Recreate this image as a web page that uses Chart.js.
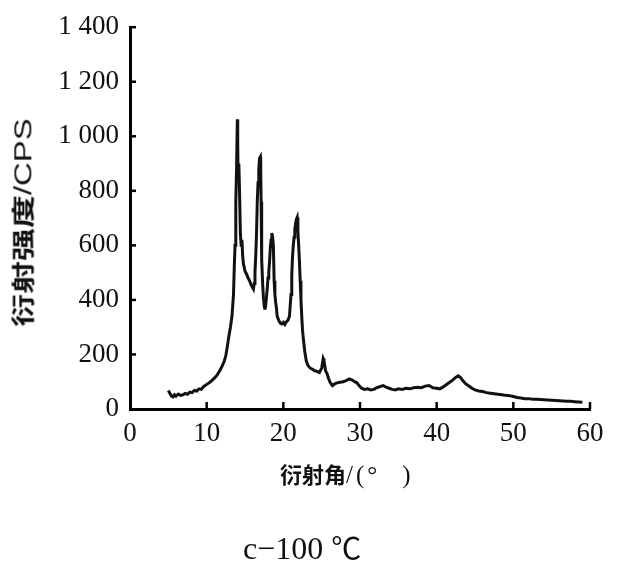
<!DOCTYPE html>
<html>
<head>
<meta charset="utf-8">
<script src="https://cdn.jsdelivr.net/npm/chart.js@4.4.1/dist/chart.umd.min.js"></script>
<style>
  html, body { margin: 0; padding: 0; background: #fff; }
  #wrap { position: relative; width: 625px; height: 574px; overflow: hidden; }
  #c { position: absolute; left: 0; top: 0; }
  .cjk { font-family: "Noto Sans CJK SC", sans-serif; font-weight: 700; }
  #ytitle { position: absolute; left: 23px; top: 222px; white-space: nowrap;
            font-size: 23px; color: #111; line-height: 1; transform-origin: center center; }
  #ytitle .lat { font-family: "Liberation Sans", sans-serif; }
  #xtitle { position: absolute; left: 280px; top: 461px; white-space: nowrap;
            font-size: 22px; color: #111; line-height: 1.1; }
  #xtitle .lat { font-family: "Liberation Serif", serif; font-size: 25px; letter-spacing: 3px; }
  #caption { position: absolute; left: 302px; top: 546px; transform: translate(-50%, -50%);
             white-space: nowrap; font-family: "Liberation Serif", serif; font-size: 32px; color: #111; }
  #caption .deg { font-family: "Noto Sans CJK SC", serif; font-size: 30px; }
</style>
</head>
<body>
<div id="wrap">
  <canvas id="c" width="625" height="574"></canvas>
  <div id="ytitle"><span class="cjk">衍射强度</span><span class="lat">/CPS</span></div>
  <div id="xtitle"><span class="cjk">衍射角</span><span class="lat">/(°</span><span class="lat" style="margin-left:22px">)</span></div>
  <div id="caption">c−100 <span class="deg">℃</span></div>
</div>
<script>
// ---- data ----
const angles = [
  5.0, 5.2, 5.4, 5.6, 5.8, 6.0, 6.3, 6.6, 6.9, 7.2, 7.5, 7.8, 8.1, 8.4, 8.7, 9.0, 9.3, 9.6, 9.9,
  10.2, 10.5, 10.8, 11.1, 11.4, 11.7, 12.0, 12.3, 12.5, 12.7, 12.9, 13.1, 13.3, 13.5, 13.6, 13.7,
  13.8, 13.9, 14.0, 14.05, 14.1, 14.2, 14.3, 14.4, 14.5, 14.6, 14.7, 14.8, 14.9, 15.0, 15.2, 15.4,
  15.6, 15.8, 16.0, 16.1, 16.2, 16.3, 16.4, 16.5, 16.6, 16.7, 16.8, 16.9, 17.0, 17.05, 17.1, 17.15,
  17.2, 17.3, 17.4, 17.5, 17.6, 17.7, 17.8, 17.9, 18.0, 18.1, 18.2, 18.3, 18.4, 18.5, 18.6, 18.7,
  18.8, 18.9, 19.0, 19.1, 19.2, 19.4, 19.6, 19.8, 20.0, 20.2, 20.4, 20.6, 20.8, 21.0, 21.1, 21.2,
  21.3, 21.4, 21.5, 21.6, 21.7, 21.8, 21.9, 22.0, 22.1, 22.2, 22.3, 22.4, 22.5, 22.6, 22.8, 23.0,
  23.2, 23.5, 23.8, 24.1, 24.4, 24.7, 25.0, 25.2, 25.3, 25.5, 25.7, 25.9, 26.1, 26.4, 26.7, 27.0,
  27.4, 27.8, 28.2, 28.6, 29.0, 29.3, 29.6, 29.9, 30.2, 30.6, 31.0, 31.4, 31.8, 32.2, 32.6, 33.0,
  33.4, 33.8, 34.2, 34.6, 35.0, 35.5, 36.0, 36.5, 37.0, 37.5, 38.0, 38.5, 39.0, 39.5, 40.0, 40.4,
  40.8, 41.2, 41.6, 42.0, 42.4, 42.8, 43.1, 43.4, 43.8, 44.2, 44.6, 45.0, 45.5, 46.0, 46.5, 47.0,
  47.5, 48.0, 48.5, 49.0, 49.5, 50.0, 50.5, 51.0, 51.5, 52.0, 52.5, 53.0, 53.5, 54.0, 54.5, 55.0,
  55.5, 56.0, 56.5, 57.0, 57.5, 58.0, 58.5, 59.0
];
const intensity = [
  68, 58, 48, 44, 52, 47, 55, 50, 52, 57, 54, 62, 60, 68, 66, 74, 72, 82, 88,
  94, 100, 108, 116, 126, 140, 156, 176, 196, 230, 268, 300, 340, 420, 520, 600,
  760, 880, 1062, 980, 840, 900, 780, 640, 600, 620, 560, 530, 520, 505, 495, 480,
  470, 455, 445, 440, 460, 500, 560, 640, 760, 830, 880, 920, 925, 880, 760, 640,
  550, 460, 410, 380, 365, 380, 410, 440, 480, 500, 540, 590, 620, 645, 630, 600,
  470, 420, 390, 370, 340, 325, 315, 312, 318, 310, 320, 325, 340, 420, 490, 560,
  600, 630, 660, 680, 695, 702, 650, 600, 540, 470, 400, 340, 290, 260, 210, 176,
  160, 150, 146, 140, 138, 134, 150, 185, 178, 140, 130, 112, 98, 86, 92, 96,
  98, 100, 104, 110, 106, 100, 96, 85, 76, 72, 74, 70, 72, 78, 82, 86,
  80, 76, 72, 70, 74, 72, 76, 74, 78, 80, 78, 84, 86, 78, 76, 74,
  80, 88, 96, 104, 114, 122, 116, 104, 92, 84, 76, 70, 66, 64, 60, 58,
  56, 54, 52, 50, 49, 46, 42, 40, 38, 38, 36, 36, 35, 34, 33, 32,
  31, 30, 29, 28, 28, 27, 26, 25
];
const xTickValues = [0, 10, 20, 30, 40, 50, 60];
const xTickLabels = ['0', '10', '20', '30', '40', '50', '60'];
const yTickValues = [0, 200, 400, 600, 800, 1000, 1200, 1400];
const yTickLabels = ['0', '200', '400', '600', '800', '1 000', '1 200', '1 400'];

const points = angles.map((a, i) => ({ x: a, y: intensity[i] }));

const inwardTicks = {
  id: 'inwardTicks',
  afterDraw(chart) {
    const { ctx, chartArea } = chart;
    const xs = chart.scales.x, ys = chart.scales.y;
    ctx.save();
    ctx.strokeStyle = '#000';
    ctx.lineWidth = 2.5;
    xTickValues.forEach(v => {
      if (v === 0) return;
      const px = xs.getPixelForValue(v);
      ctx.beginPath(); ctx.moveTo(px, chartArea.bottom); ctx.lineTo(px, chartArea.bottom - 7); ctx.stroke();
    });
    yTickValues.forEach(v => {
      if (v === 0) return;
      const py = ys.getPixelForValue(v);
      ctx.beginPath(); ctx.moveTo(chartArea.left, py); ctx.lineTo(chartArea.left + 6, py); ctx.stroke();
    });
    ctx.restore();
  }
};

new Chart(document.getElementById('c'), {
  type: 'line',
  data: {
    datasets: [{
      data: points,
      borderColor: '#111',
      borderWidth: 3,
      pointRadius: 0,
      tension: 0,
      fill: false
    }]
  },
  options: {
    responsive: false,
    animation: false,
    layout: { padding: { left: 0, right: 35, top: 20, bottom: 0 } },
    plugins: { legend: { display: false }, tooltip: { enabled: false } },
    scales: {
      x: {
        type: 'linear', min: 0, max: 60,
        afterBuildTicks(s) { s.ticks = xTickValues.map(v => ({ value: v })); },
        afterFit(s) { s.height = 165; },
        grid: { display: false, drawTicks: false },
        border: { display: true, color: '#000', width: 3 },
        ticks: {
          padding: 9, color: '#111',
          font: { family: 'Liberation Serif', size: 27 },
          callback: (v) => xTickLabels[xTickValues.indexOf(v)]
        }
      },
      y: {
        type: 'linear', min: 0, max: 1400,
        afterBuildTicks(s) { s.ticks = yTickValues.map(v => ({ value: v })); },
        afterFit(s) { s.width = 130; },
        grid: { display: false, drawTicks: false },
        border: { display: true, color: '#000', width: 3 },
        ticks: {
          padding: 11, color: '#111',
          font: { family: 'Liberation Serif', size: 27 },
          callback: (v) => yTickLabels[yTickValues.indexOf(v)]
        }
      }
    }
  },
  plugins: [inwardTicks]
});

// stretch y title along its reading direction to match the reference length
const yt = document.getElementById('ytitle');
const w = yt.offsetWidth, h = yt.offsetHeight;
const sx = 209 / w;
yt.style.left = (23 - w / 2) + 'px';
yt.style.top = (222 - h / 2) + 'px';
yt.style.transform = 'rotate(-90deg) scaleX(' + sx + ')';
</script>
</body>
</html>
